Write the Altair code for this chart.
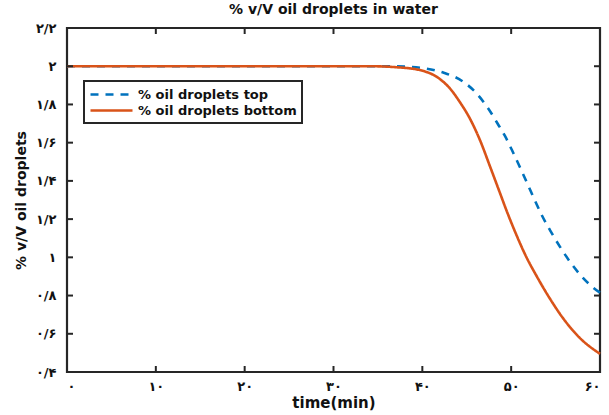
import altair as alt
import pandas as pd

# ---- data ----
time_top = [0, 10, 20, 30, 35, 38, 40.1, 42.4, 44.6, 46.1, 47.4, 48.6, 49.3, 50.1,
            51.0, 51.8, 52.6, 53.4, 54.4, 55.5, 56.6, 57.9, 59.2, 60]
val_top = [2.0, 2.0, 2.0, 2.0, 2.0, 1.998, 1.99, 1.966, 1.919, 1.858, 1.78, 1.69, 1.635, 1.56,
           1.47, 1.388, 1.305, 1.225, 1.14, 1.055, 0.978, 0.902, 0.843, 0.815]

time_bottom = [0, 10, 20, 30, 34, 37, 39.7, 42.0, 43.1, 44.2, 45.4, 46.5, 47.6, 48.6,
               49.6, 50.6, 51.6, 52.9, 54.2, 55.8, 57.8, 60]
val_bottom = [2.0, 2.0, 2.0, 2.0, 2.0, 1.995, 1.98, 1.932, 1.884, 1.814, 1.722, 1.612, 1.478, 1.354,
              1.23, 1.116, 1.012, 0.899, 0.796, 0.684, 0.575, 0.495]

series_names = ["% oil droplets top", "% oil droplets bottom"]
series_colors = ["#0072BD", "#D95319"]

x_tick_values = [0, 10, 20, 30, 40, 50, 60]
x_tick_labels = ["۰", "۱۰", "۲۰", "۳۰", "۴۰", "۵۰", "۶۰"]
y_tick_values = [0.4, 0.6, 0.8, 1.0, 1.2, 1.4, 1.6, 1.8, 2.0, 2.2]
y_tick_labels = ["۰/۴", "۰/۶", "۰/۸", "۱", "۱/۲", "۱/۴", "۱/۶", "۱/۸", "۲", "۲/۲"]

title_text = "% v/V oil droplets in water"
x_title = "time(min)"
y_title = "% v/V oil droplets"

# ---- build tables ----
df = pd.concat([
    pd.DataFrame({"t": time_top, "v": val_top, "s": series_names[0], "o": list(range(len(time_top)))}),
    pd.DataFrame({"t": time_bottom, "v": val_bottom, "s": series_names[1], "o": list(range(len(time_bottom)))}),
])
xt = pd.DataFrame({"t": x_tick_values})
yt = pd.DataFrame({"v": y_tick_values})


def label_expr(values, labels, scale):
    expr = "''"
    for val, lab in reversed(list(zip(values, labels))):
        expr = f"round(datum.value*{scale}) == {round(val*scale)} ? '{lab}' : ({expr})"
    return expr


W, H = 533, 344
FONT = "DejaVu Sans"
AX = "#262626"

xscale = alt.Scale(domain=[0, 60], nice=False, zero=False)
yscale = alt.Scale(domain=[0.4, 2.2], nice=False, zero=False)

x_axis = alt.Axis(values=x_tick_values, labelExpr=label_expr(x_tick_values, x_tick_labels, 1),
                  grid=False, ticks=False, domain=False, labelPadding=8, labelOverlap=False,
                  labelFontSize=13, labelFontWeight="bold", labelColor="#111",
                  titleFontSize=15, titleFontWeight="bold", titlePadding=2, titleColor="#111")
y_axis = alt.Axis(values=y_tick_values, labelExpr=label_expr(y_tick_values, y_tick_labels, 10),
                  grid=False, ticks=False, domain=False, labelPadding=11, labelOverlap=False,
                  labelFontSize=13, labelFontWeight="bold", labelColor="#111",
                  titleFontSize=14, titleFontWeight="bold", titlePadding=7, titleColor="#111")

lines = alt.Chart(df).mark_line(strokeWidth=2.6, interpolate="monotone").encode(
    x=alt.X("t:Q", scale=xscale, title=x_title, axis=x_axis),
    y=alt.Y("v:Q", scale=yscale, title=y_title, axis=y_axis),
    color=alt.Color("s:N", sort=series_names, title=None,
                    scale=alt.Scale(domain=series_names, range=series_colors),
                    legend=alt.Legend(orient="none", legendX=17, legendY=53, symbolType="M-1,0H5",
                                      symbolSize=196, symbolStrokeWidth=2.6, symbolFillColor="transparent",
                                      labelFontSize=13, labelFontWeight="bold", labelColor="#111",
                                      labelOffset=32, rowPadding=-1, padding=5, strokeColor=AX)),
    strokeDash=alt.StrokeDash("s:N", sort=series_names, title=None,
                              scale=alt.Scale(domain=series_names, range=[[8, 7], [1, 0]])),
    order="o:Q",
)

bottom_ticks = alt.Chart(xt).mark_rule(color=AX, strokeWidth=2).encode(
    x=alt.X("t:Q", scale=xscale, title=x_title, axis=x_axis), y=alt.value(H), y2=alt.value(H - 6))
top_ticks = alt.Chart(xt).mark_rule(color=AX, strokeWidth=2).encode(
    x=alt.X("t:Q", scale=xscale, title=x_title, axis=x_axis), y=alt.value(0), y2=alt.value(6))
left_ticks = alt.Chart(yt).mark_rule(color=AX, strokeWidth=2).encode(
    y=alt.Y("v:Q", scale=yscale, title=y_title, axis=y_axis), x=alt.value(0), x2=alt.value(6))
right_ticks = alt.Chart(yt).mark_rule(color=AX, strokeWidth=2).encode(
    y=alt.Y("v:Q", scale=yscale, title=y_title, axis=y_axis), x=alt.value(W), x2=alt.value(W - 6))

chart = alt.layer(lines, bottom_ticks, top_ticks, left_ticks, right_ticks).properties(
    width=W, height=H,
    title=alt.TitleParams(title_text, fontSize=14, fontWeight="bold", color="#111",
                          anchor="middle", offset=5, font=FONT),
    autosize=alt.AutoSizeParams(type="none"),
    padding={"left": 67, "top": 28, "right": 9, "bottom": 43},
).configure(font=FONT).configure_view(
    stroke=AX, strokeWidth=2.2
).configure_legend(strokeWidth=2)

chart.save("out.html", embed_options={"renderer": "svg", "actions": False})
